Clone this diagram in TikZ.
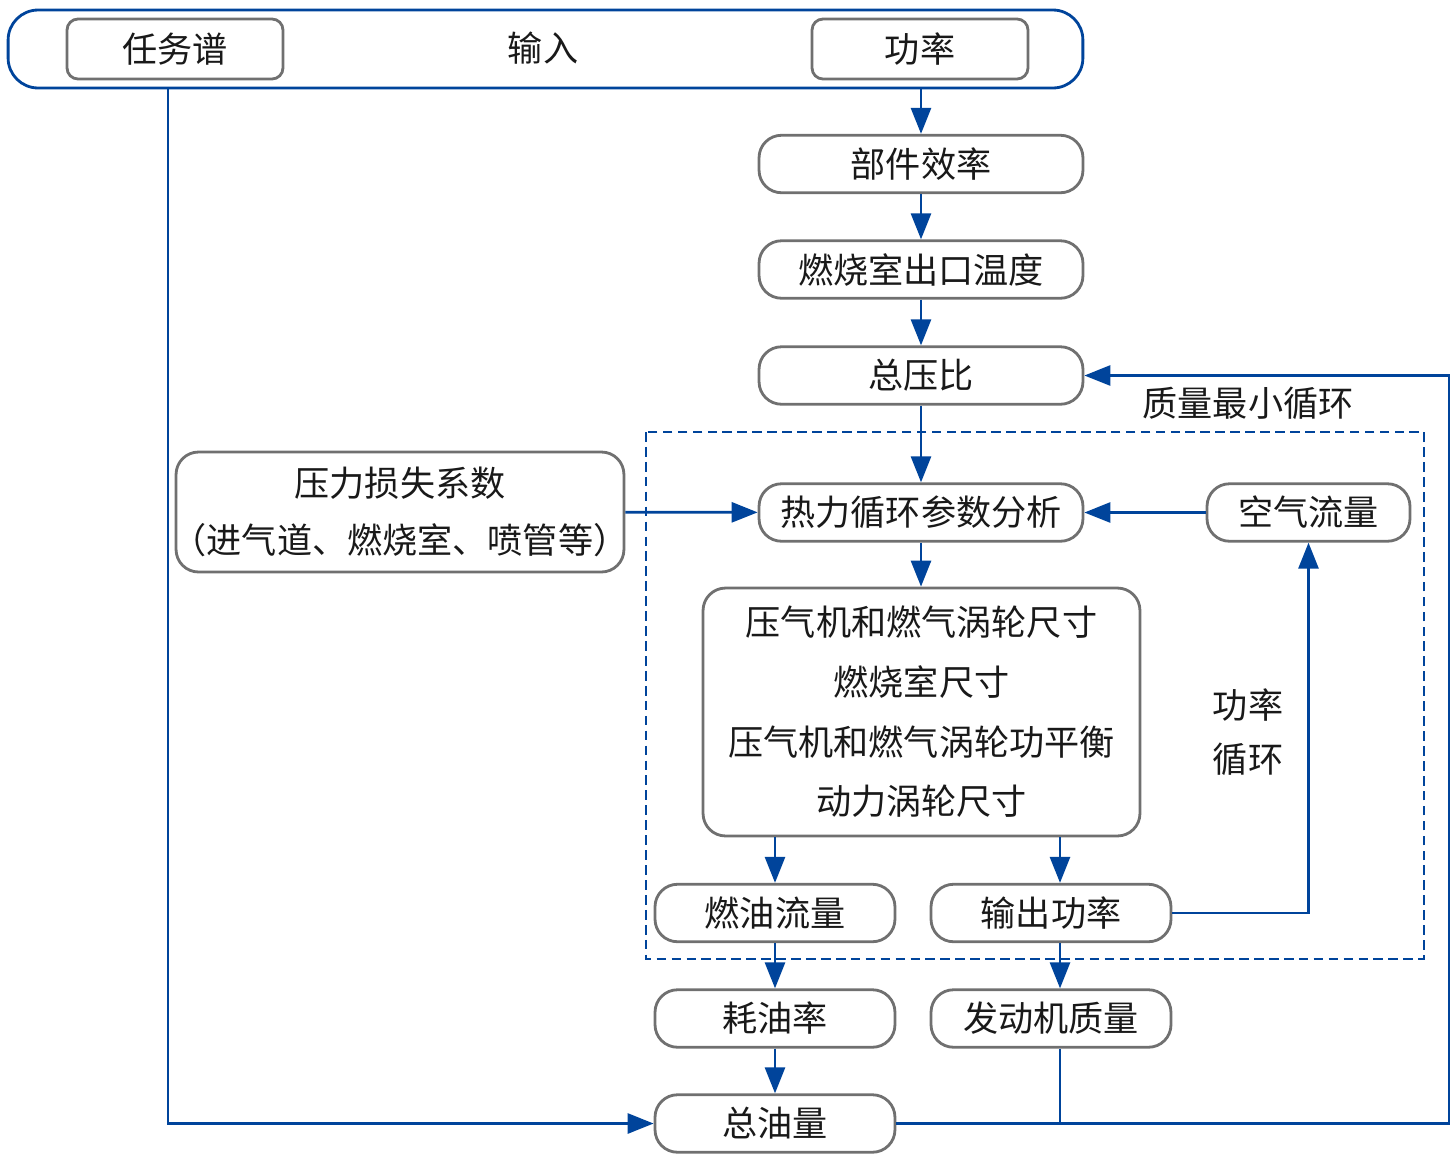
\documentclass[tikz,border=0pt]{standalone}
\usepackage{fontspec}
\setmainfont{Noto Sans CJK SC}
\usetikzlibrary{arrows.meta}
\definecolor{lineblue}{RGB}{0,68,155}
\definecolor{boxgray}{RGB}{112,112,112}

\begin{document}
\begin{tikzpicture}[x=0.02cm,y=-0.02cm,
  every node/.style={font=\fontsize{20}{24}\selectfont,text=black!90},
  box/.style={draw=boxgray,line width=1.6pt,fill=white,rounded corners=0.45cm,inner sep=0pt,minimum height=1.15cm},
  wide/.style={box,minimum width=6.48cm},
  half/.style={box,minimum width=4.8cm},
  link/.style={draw=lineblue,line width=1.6pt},
  arr/.style={link,-{Triangle[length=0.52cm,width=0.4cm]}}]
 \useasboundingbox (0,0) rectangle (1454,1164);
 % input
 \node[draw=lineblue,line width=1.6pt,rounded corners=0.6cm,minimum width=21.5cm,minimum height=1.56cm] (input) at (545.5,49) {};
 \node (inputtxt) at (543,48) {输入};
 \node[box,rounded corners=0.22cm,minimum width=4.32cm,minimum height=1.2cm] (renwu) at (175,49) {任务谱};
 \node[box,rounded corners=0.22cm,minimum width=4.32cm,minimum height=1.2cm] (gonglv) at (920,49) {功率};
 % main chain
 \node[wide] (bujian) at (921,164) {部件效率};
 \node[wide] (ranshao) at (921,269.5) {燃烧室出口温度};
 \node[wide] (zongya) at (921,375.5) {总压比};
 \draw[lineblue,line width=1.5pt,dash pattern=on 5.5pt off 3pt] (646,432) rectangle (1424,959);
 \node (zhiliang) at (1248,403) {质量最小循环};
 \node[wide] (reli) at (921,512.5) {热力循环参数分析};
 \node[box,minimum width=8.96cm,minimum height=2.4cm,align=center,font=\fontsize{20}{32}\selectfont] (yali) at (400,512) {压力损失系数\\\kern-.35em（进气道、燃烧室、喷管等）\kern-.35em};
 \node[box,minimum width=4.06cm] (kongqi) at (1308.5,512.5) {空气流量};
 \node[box,minimum width=8.74cm,minimum height=4.96cm,align=center,font=\fontsize{20}{34}\selectfont] (chicun) at (921.5,712) {压气机和燃气涡轮尺寸\\燃烧室尺寸\\压气机和燃气涡轮功平衡\\动力涡轮尺寸};
 \node[align=center,font=\fontsize{20}{31}\selectfont] (gonglvxh) at (1248,732) {功率\\循环};
 \node[half] (ranyou) at (775,913) {燃油流量};
 \node[half] (shuchu) at (1051,913) {输出功率};
 \node[half] (haoyou) at (775,1018.5) {耗油率};
 \node[half] (fadong) at (1051,1018.5) {发动机质量};
 \node[half] (zongyou) at (775,1123.5) {总油量};
 % connectors
 \coordinate (rw) at (168,0);
 \coordinate (pw) at (1060,0);
 \coordinate (ret) at (1449,0);
 \draw[arr] (input.south -| bujian) -- (bujian);
 \draw[arr] (bujian) -- (ranshao);
 \draw[arr] (ranshao) -- (zongya);
 \draw[arr] (zongya) -- (reli);
 \draw[arr] (yali) -- (reli);
 \draw[arr] (kongqi) -- (reli);
 \draw[arr] (reli) -- (reli |- chicun.north);
 \draw[arr] (ranyou |- chicun.south) -- (ranyou);
 \draw[arr] (pw |- chicun.south) -- (pw |- shuchu.north);
 \draw[arr] (ranyou) -- (haoyou);
 \draw[arr] (pw |- shuchu.south) -- (pw |- fadong.north);
 \draw[arr] (haoyou) -- (zongyou);
 \draw[arr] (shuchu.east) -| (kongqi.south);
 \draw[arr] (rw |- input.south) |- (zongyou.west);
 \draw[arr] (zongyou.east) -- (zongyou.east -| ret) |- (zongya.east);
 \draw[link] (pw |- fadong.south) -- (pw |- zongyou.east);
\end{tikzpicture}
\end{document}
